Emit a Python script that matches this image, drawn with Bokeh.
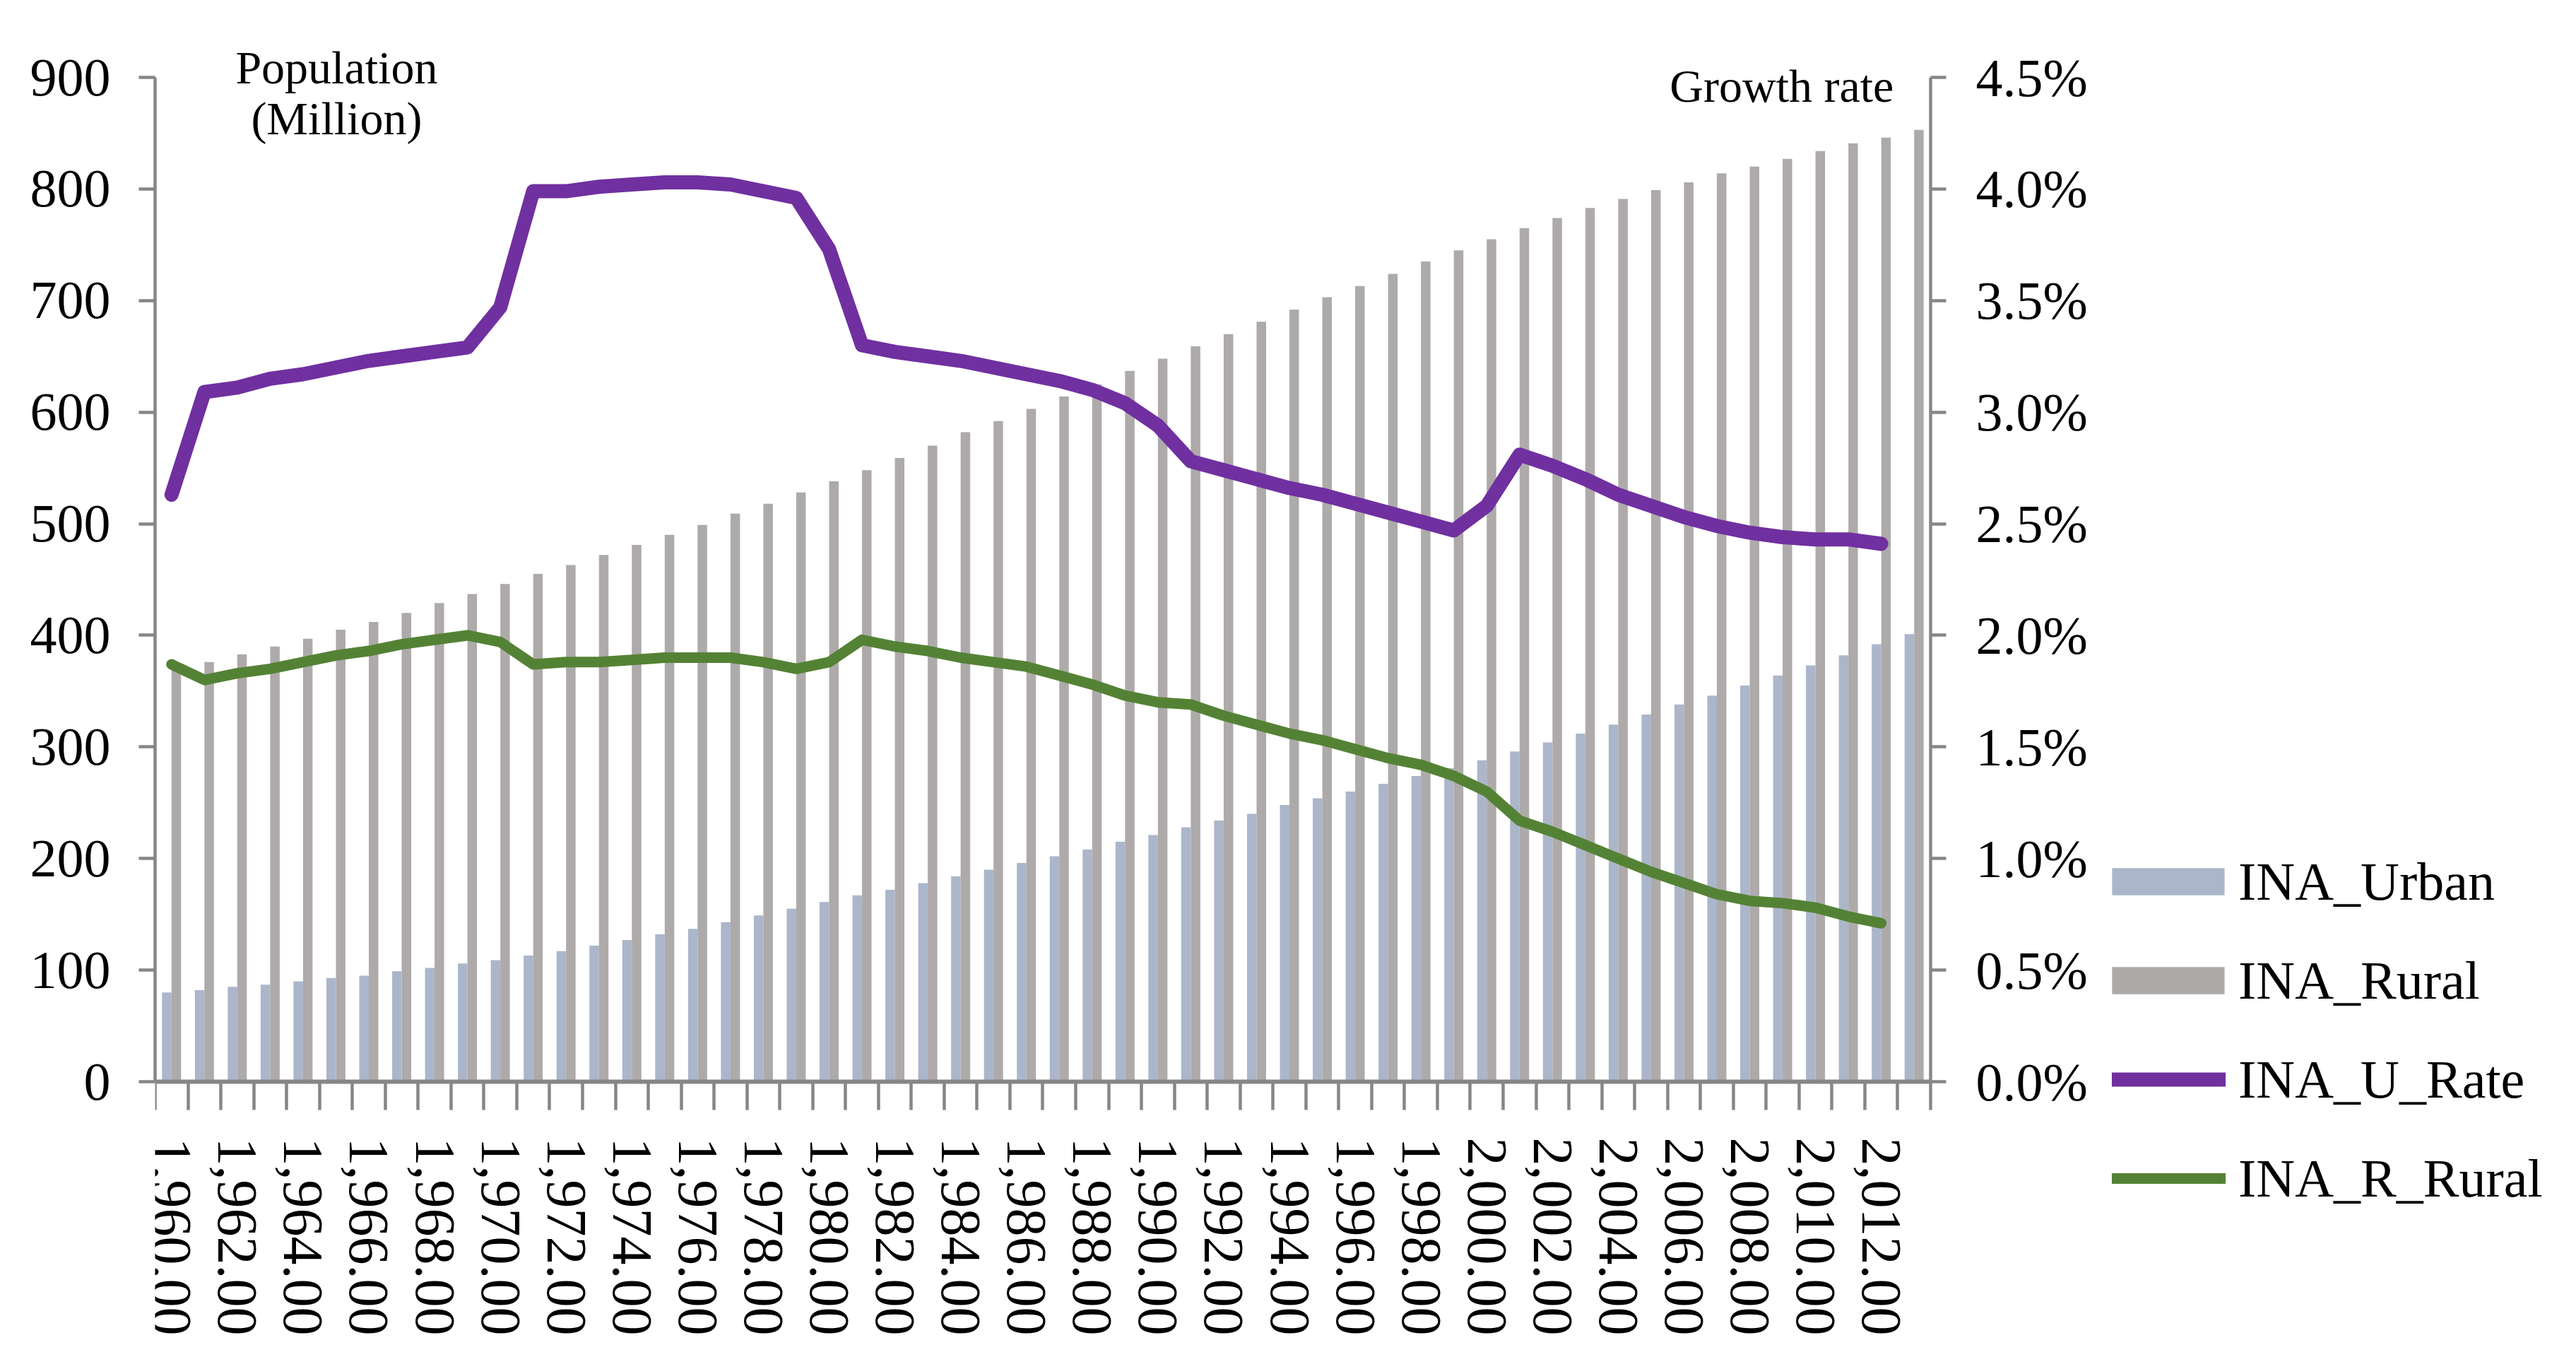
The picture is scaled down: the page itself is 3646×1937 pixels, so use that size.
from bokeh.embed import file_html
from bokeh.resources import INLINE
from bokeh.plotting import figure
from bokeh.models import (ColumnDataSource, Range1d, LinearAxis, FixedTicker,
                          NumeralTickFormatter, PrintfTickFormatter,
                          Legend, LegendItem, Label)
from bokeh.transform import dodge

# ---- data ----
years = list(range(1960, 2014))

urban = [80, 82, 85, 87, 90, 93, 95, 99, 102, 106,
         109, 113, 117, 122, 127, 132, 137, 143, 149, 155,
         161, 167, 172, 178, 184, 190, 196, 202, 208, 215,
         221, 228, 234, 240, 248, 254, 260, 267, 274, 281,
         288, 296, 304, 312, 320, 329, 338, 346, 355, 364,
         373, 382, 392, 401]

rural = [373, 376, 383, 390, 397, 405, 412, 420, 429, 437,
         446, 455, 463, 472, 481, 490, 499, 509, 518, 528,
         538, 548, 559, 570, 582, 592, 603, 614, 625, 637,
         648, 659, 670, 681, 692, 703, 713, 724, 735, 745,
         755, 765, 774, 783, 791, 799, 806, 814, 820, 827,
         834, 841, 846, 853]

# growth rates in %, 1960-2012
u_rate = [2.63, 3.09, 3.11, 3.15, 3.17, 3.20, 3.23, 3.25, 3.27, 3.29,
          3.47, 3.99, 3.99, 4.01, 4.02, 4.03, 4.03, 4.02, 3.99, 3.96,
          3.73, 3.30, 3.27, 3.25, 3.23, 3.20, 3.17, 3.14, 3.10, 3.04,
          2.94, 2.78, 2.74, 2.70, 2.66, 2.63, 2.59, 2.55, 2.51, 2.47,
          2.58, 2.81, 2.76, 2.70, 2.63, 2.58, 2.53, 2.49, 2.46, 2.44,
          2.43, 2.43, 2.41]

r_rate = [1.87, 1.80, 1.83, 1.85, 1.88, 1.91, 1.93, 1.96, 1.98, 2.00,
          1.97, 1.87, 1.88, 1.88, 1.89, 1.90, 1.90, 1.90, 1.88, 1.85,
          1.88, 1.98, 1.95, 1.93, 1.90, 1.88, 1.86, 1.82, 1.78, 1.73,
          1.70, 1.69, 1.64, 1.60, 1.56, 1.53, 1.49, 1.45, 1.42, 1.37,
          1.30, 1.17, 1.12, 1.06, 1.00, 0.94, 0.89, 0.84, 0.81, 0.80,
          0.78, 0.74, 0.71]

pop_ticks = [0, 100, 200, 300, 400, 500, 600, 700, 800, 900]
rate_ticks = [0.0, 0.5, 1.0, 1.5, 2.0, 2.5, 3.0, 3.5, 4.0, 4.5]
label_years = years[::2]

FONT = "Liberation Serif"
AXIS_GRAY = "#868686"

# ---- layout: the frame covers the whole canvas right/below the left axis,
# so captions and legend are not clipped; the bottom and right axes are
# pinned with fixed_location and bounded to the real chart area.
POP_MAX = 900
RATE_MAX = 4.5
FRAME_W, FRAME_H = 3409, 1876
BORDER_LEFT, BORDER_TOP = 219, 43
PX_PER_YEAR = 46.537          # 2513 px for 54 categories
PX_PER_POP = 1421 / POP_MAX   # chart area height 1421 px
CHART_BOTTOM = 1487           # px from frame top to the 0 line

X0 = years[0] - 0.5
X1 = years[-1] + 0.5
x_end = X0 + FRAME_W / PX_PER_YEAR
y_top = (CHART_BOTTOM - 0) / PX_PER_POP
y_bottom = -(FRAME_H - CHART_BOTTOM) / PX_PER_POP
rate_scale = RATE_MAX / POP_MAX

bars = ColumnDataSource(data=dict(year=years, urban=urban, rural=rural))
u_src = ColumnDataSource(data=dict(year=years[:len(u_rate)], rate=u_rate))
r_src = ColumnDataSource(data=dict(year=years[:len(r_rate)], rate=r_rate))

p = figure(frame_width=FRAME_W, frame_height=FRAME_H,
           min_border_left=BORDER_LEFT, min_border_top=BORDER_TOP,
           min_border_right=0, min_border_bottom=0,
           x_range=Range1d(X0, x_end),
           y_range=Range1d(y_bottom, y_top),
           output_backend="svg", toolbar_location=None)
p.extra_y_ranges = {"rate": Range1d(y_bottom * rate_scale, y_top * rate_scale)}
p.grid.visible = False
p.outline_line_color = None

ub = p.vbar(x=dodge("year", -0.145, range=p.x_range), top="urban", width=0.29,
            source=bars, fill_color="#ABB6CA", line_color=None)
rb = p.vbar(x=dodge("year", 0.145, range=p.x_range), top="rural", width=0.29,
            source=bars, fill_color="#AEAAAA", line_color=None)
ul = p.line("year", "rate", source=u_src, y_range_name="rate",
            line_color="#7030A0", line_width=20,
            line_cap="round", line_join="round")
rl = p.line("year", "rate", source=r_src, y_range_name="rate",
            line_color="#548235", line_width=15,
            line_cap="round", line_join="round")

# left axis
yax = p.yaxis[0]
yax.ticker = FixedTicker(ticks=pop_ticks)
yax.bounds = (0, POP_MAX)
yax.minor_tick_line_color = None
yax.major_tick_in = 0
yax.major_tick_out = 23
yax.major_label_standoff = 40
yax.axis_line_color = AXIS_GRAY
yax.axis_line_width = 4.5
yax.major_tick_line_color = AXIS_GRAY
yax.major_tick_line_width = 4.5
yax.major_label_text_font = FONT
yax.major_label_text_font_size = "76px"
yax.major_label_text_color = "black"

# right axis, pinned at the end of the last category
rax = LinearAxis(y_range_name="rate", ticker=FixedTicker(ticks=rate_ticks),
                 formatter=PrintfTickFormatter(format="%.1f%%"),
                 bounds=(0, RATE_MAX), fixed_location=X1)
rax.minor_tick_line_color = None
rax.major_tick_in = 0
rax.major_tick_out = 22
rax.major_label_standoff = 42
rax.axis_line_color = AXIS_GRAY
rax.axis_line_width = 4.5
rax.major_tick_line_color = AXIS_GRAY
rax.major_tick_line_width = 4.5
rax.major_label_text_font = FONT
rax.major_label_text_font_size = "76px"
rax.major_label_text_color = "black"
p.add_layout(rax, "right")

# category axis: ticks between years, a label every second year
xax = p.xaxis[0]
xax.fixed_location = 0
xax.bounds = (X0, X1)
xax.ticker = FixedTicker(ticks=label_years,
                         minor_ticks=[y - 0.5 for y in years] + [X1])
xax.formatter = NumeralTickFormatter(format="0,0.00")
xax.major_label_orientation = "vertical"
xax.major_tick_in = 0
xax.major_tick_out = 0
xax.minor_tick_in = 0
xax.minor_tick_out = 40
xax.minor_tick_line_color = AXIS_GRAY
xax.minor_tick_line_width = 4.5
xax.major_label_standoff = 39
xax.axis_line_color = AXIS_GRAY
xax.axis_line_width = 6
xax.major_label_text_font = FONT
xax.major_label_text_font_size = "80px"
xax.major_label_text_color = "black"

# axis captions drawn as free text
for txt, x, y, align in [("Population", 1965.02, 909, "center"),
                         ("(Million)", 1965.02, 863, "center"),
                         ("Growth rate", 2012.38, 892.5, "right")]:
    p.add_layout(Label(x=x, y=y, text=txt, text_align=align,
                       text_baseline="middle", text_font=FONT,
                       text_font_size="66px", text_color="black"))

# two legends: area swatches are inset 10% by bokeh, lines are not
legend_style = dict(orientation="vertical", label_height=100, spacing=40,
                    padding=0, margin=0, border_line_color=None,
                    background_fill_alpha=0, label_text_font=FONT,
                    label_text_font_size="76px", label_text_color="black")
bar_legend = Legend(items=[LegendItem(label="INA_Urban", renderers=[ub]),
                           LegendItem(label="INA_Rural", renderers=[rb])],
                    location=(2750, 482), glyph_width=199, glyph_height=48,
                    label_standoff=0, **legend_style)
line_legend = Legend(items=[LegendItem(label="INA_U_Rate", renderers=[ul]),
                            LegendItem(label="INA_R_Rural", renderers=[rl])],
                     location=(2770, 202), glyph_width=161, glyph_height=38,
                     label_standoff=18, **legend_style)
p.add_layout(bar_legend)
p.add_layout(line_legend)

open("out.html", "w").write(file_html(p, INLINE))
